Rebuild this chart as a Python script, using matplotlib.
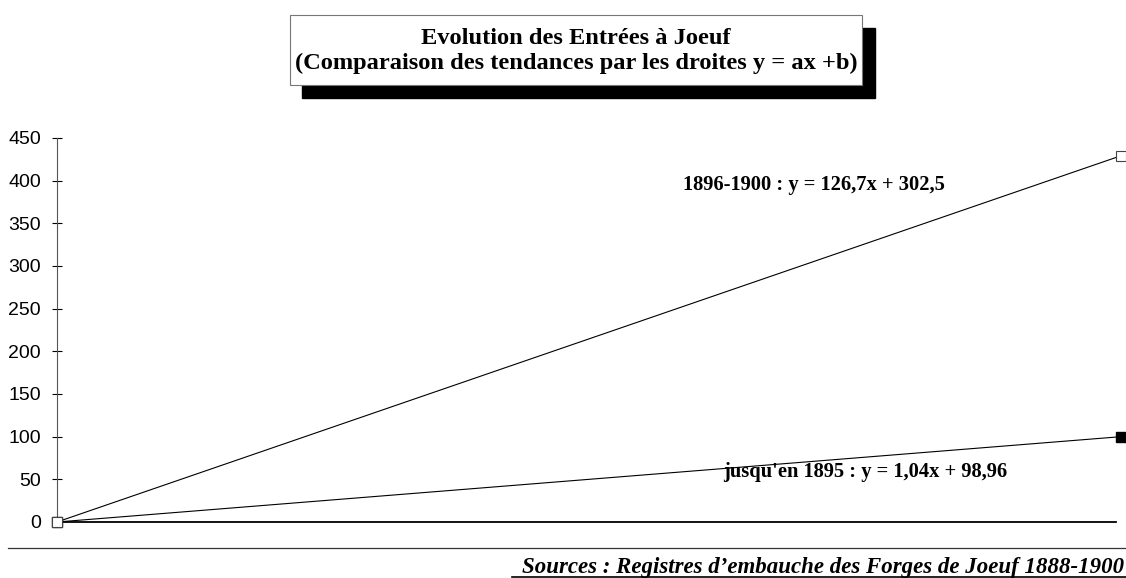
import matplotlib
matplotlib.use("Agg")
import matplotlib.pyplot as plt
from matplotlib.patches import Rectangle
from matplotlib.lines import Line2D

# Data
x_points = [0, 1]
serie_1896_1900 = [0, 429.2]
serie_jusqu_1895 = [0, 100]
label_1896_1900 = "1896-1900 : y = 126,7x + 302,5"
label_jusqu_1895 = "jusqu'en 1895 : y = 1,04x + 98,96"
y_ticks = [0, 50, 100, 150, 200, 250, 300, 350, 400, 450]
title_lines = ["Evolution des Entrées à Joeuf",
               "(Comparaison des tendances par les droites y = ax +b)"]
source_text = "Sources : Registres d\u2019embauche des Forges de Joeuf 1888-1900"

W, H = 1126, 578
fig = plt.figure(figsize=(W / 100, H / 100), dpi=100)
fig.patch.set_facecolor("white")

def fx(px):
    return px / W

def fy(py):
    return (H - py) / H

ax = fig.add_axes([fx(57), fy(522), (1121 - 57) / W, (522 - 138) / H])
ax.set_xlim(0, 1)
ax.set_ylim(0, 450)

ax.plot(x_points, serie_jusqu_1895, color="black", lw=0.8, marker="s",
        markersize=7, markerfacecolor="black", markeredgecolor="black",
        clip_on=False, zorder=3)
ax.plot(x_points, serie_1896_1900, color="black", lw=0.8, marker="s",
        markersize=7.5, markerfacecolor="white", markeredgecolor="#444444",
        markeredgewidth=0.8, clip_on=False, zorder=4)

serif_bold = dict(family="Liberation Serif", weight="bold")
ax.text(0.588, 395, label_1896_1900, fontsize=14.8, va="center", ha="left", **serif_bold)
ax.text(0.626, 58.6, label_jusqu_1895, fontsize=14.8, va="center", ha="left", **serif_bold)

for s in ["top", "right"]:
    ax.spines[s].set_visible(False)
ax.spines["left"].set_color("#555555")
ax.spines["left"].set_linewidth(0.8)
ax.spines["bottom"].set_color("black")
ax.spines["bottom"].set_linewidth(1.3)
ax.spines["bottom"].set_bounds(0, 0.995)
ax.set_xticks([])
ax.set_yticks(y_ticks)
ax.set_yticklabels([str(v) for v in y_ticks], family="Liberation Sans", fontsize=14)
ax.tick_params(axis="y", direction="inout", length=7, width=0.8, pad=8, colors="black")
ax.patch.set_alpha(0)

# Title box with shadow
fig.patches.append(Rectangle((fx(302), fy(98)), (875 - 302) / W, (98 - 28) / H,
                             transform=fig.transFigure, facecolor="black",
                             edgecolor="black", zorder=1))
fig.patches.append(Rectangle((fx(290), fy(85)), (862 - 290) / W, (85 - 15) / H,
                             transform=fig.transFigure, facecolor="white",
                             edgecolor="#777777", linewidth=0.8, zorder=2))
fig.text(fx(576), fy(51), "\n".join(title_lines), ha="center", va="center",
         fontsize=17.6, linespacing=1.2, zorder=3, **serif_bold)

# Separator line and source
fig.lines.append(Line2D([fx(8), 1.0], [fy(548), fy(548)], transform=fig.transFigure,
                        color="#333333", lw=0.9))
fig.text(fx(1124), fy(567), source_text, ha="right", va="center", fontsize=16.5,
         family="Liberation Serif", weight="bold", style="italic")
fig.lines.append(Line2D([fx(512), 1.0], [fy(576.5), fy(576.5)], transform=fig.transFigure,
                        color="black", lw=1.2))

fig.savefig("out.png", dpi=100)
